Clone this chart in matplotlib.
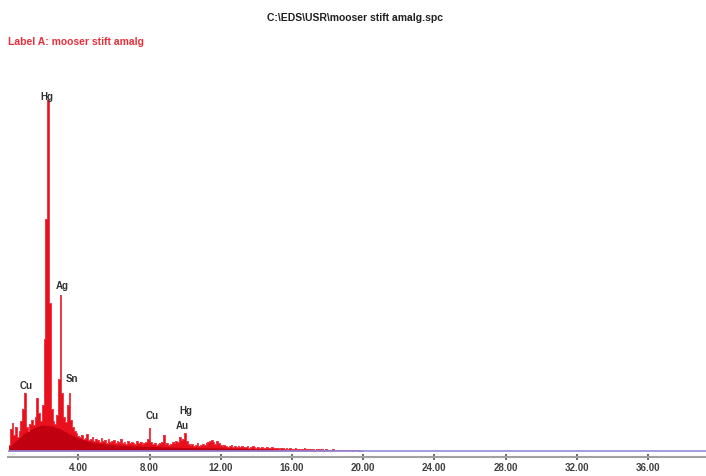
import numpy as np
import matplotlib
matplotlib.use("Agg")
import matplotlib.pyplot as plt

plt.rcParams['font.family'] = ['Liberation Sans Narrow', 'Liberation Sans', 'DejaVu Sans']

# spectrum counts, 0.1 keV channels from 0.1 to 20.0 keV
energy = np.round(np.arange(1, 201) * 0.1, 2)
counts = [
    6, 22, 28, 16, 24, 14, 20, 30, 42, 58,
    24, 20, 27, 31, 26, 34, 53, 38, 30, 46,
    112, 232, 351, 148, 42, 30, 27, 36, 72, 156,
    58, 34, 29, 46, 58, 31, 24, 20, 18, 15,
    14, 16, 12, 13, 17, 11, 12, 14, 10, 12,
    11, 9, 13, 10, 11, 8, 12, 9, 10, 11,
    8, 10, 9, 12, 8, 9, 7, 10, 8, 9,
    8, 7, 10, 8, 9, 7, 8, 9, 12, 23,
    9, 7, 8, 6, 7, 8, 9, 16, 7, 8,
    6, 7, 9, 8, 10, 9, 14, 11, 12, 18,
    10, 7, 6, 7, 5, 6, 8, 5, 6, 7,
    6, 8, 9, 10, 11, 9, 7, 10, 8, 6,
    5, 6, 5, 4, 5, 6, 4, 5, 4, 5,
    4, 5, 4, 4, 5, 3, 4, 5, 4, 3,
    4, 3, 4, 3, 3, 4, 3, 3, 4, 3,
    3, 3, 2, 3, 3, 2, 3, 2, 3, 2,
    2, 3, 2, 2, 2, 2, 3, 2, 2, 2,
    2, 2, 1, 2, 2, 1, 2, 1, 2, 1,
    1, 1, 2, 1, 1, 1, 1, 1, 1, 1,
    1, 1, 1, 0, 1, 1, 0, 1, 0, 0,
]

# background hump under the peaks
bg_energy = [0.1, 0.5, 1.0, 1.5, 2.0, 2.5, 3.0, 3.5, 4.0, 4.5, 5.0, 6.0, 7.0,
             8.0, 9.0, 10.0, 12.0, 14.0, 16.0, 18.0, 20.0]
bg_counts = [4, 10, 18, 23, 26, 25, 22, 17, 13, 10, 8, 6, 5,
             4.5, 4, 3.5, 3, 2, 1, 0.5, 0]

# peak labels (element, energy, counts of label centre)
peak_names = ["Hg", "Ag", "Sn", "Cu", "Cu", "Hg", "Au"]
peak_x = [2.24, 3.08, 3.65, 1.06, 8.14, 10.05, 9.83]
peak_y = [354, 165, 72, 65, 35, 40, 25]

tick_vals = [4, 8, 12, 16, 20, 24, 28, 32, 36]

W, H = 706, 476
fig = plt.figure(figsize=(W / 100, H / 100), dpi=100)
ax = fig.add_axes([8 / W, (H - 457) / H, (W - 8) / W, 397 / H])

ax.fill_between(energy, counts, step='mid', color='#e8101c', lw=0)
ax.step(energy, counts, where='mid', color='#f03a48', lw=0.7)
ax.fill_between(bg_energy, bg_counts, color='#c00010', lw=0)
ax.axhline(0, color='#8c8cdc', lw=1.2)

for name, x, y in zip(peak_names, peak_x, peak_y):
    ax.text(x, y, name, ha='center', va='center', fontsize=7,
            fontweight='bold', color='#303030')

ax.set_xlim(0.05, 39.26)
ax.set_ylim(-6, 391)
ax.set_xticks(tick_vals)
ax.set_xticklabels(["%.2f" % v for v in tick_vals], fontsize=7,
                   fontweight='bold', color='#404040')
ax.tick_params(axis='x', direction='inout', length=4, width=1.2,
               color='#505050', pad=2)
ax.set_yticks([])
for s in ['top', 'left', 'right']:
    ax.spines[s].set_visible(False)
ax.spines['bottom'].set_color('#a0a0a0')
ax.spines['bottom'].set_linewidth(1.5)

fig.text(355 / W, 1 - 18 / H, r"C:\EDS\USR\mooser stift amalg.spc", ha='center',
         va='center', fontsize=7.5, fontweight='bold', color='#202020')
fig.text(8 / W, 1 - 42 / H, "Label A: mooser stift amalg", ha='left',
         va='center', fontsize=7.5, fontweight='bold', color='#e8303a')

fig.savefig("out.png", dpi=100)
